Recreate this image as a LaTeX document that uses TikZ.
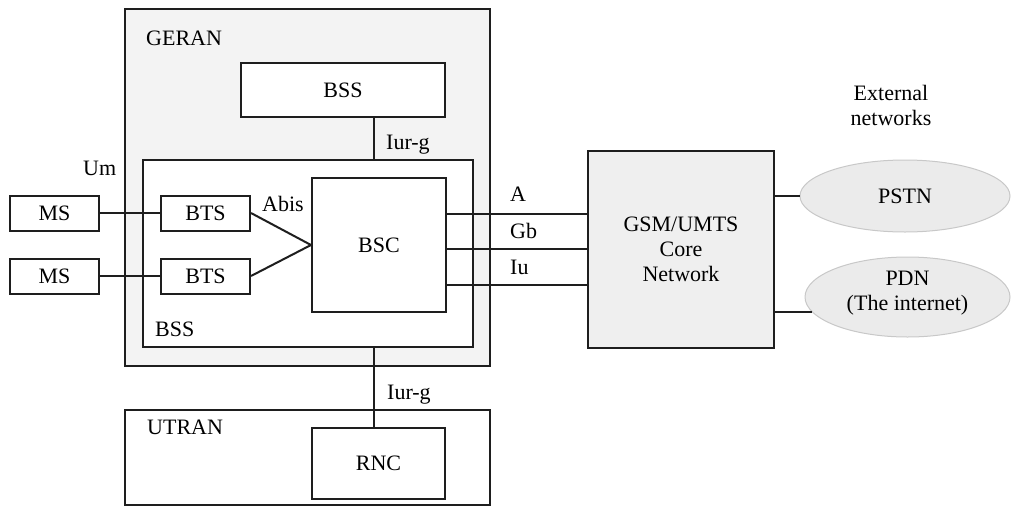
\documentclass[tikz,border=0pt]{standalone}
\usepackage{fontspec}
\setmainfont{Liberation Serif}
\usepackage{xcolor}
\usepackage{tikz}
\usetikzlibrary{shapes.geometric,calc}
\definecolor{ink}{HTML}{1E1E1E}
\definecolor{regiongray}{HTML}{F3F3F3}
\definecolor{coregray}{HTML}{EFEFEF}
\definecolor{cloudgray}{HTML}{EBEBEB}
\definecolor{cloudline}{HTML}{C8C8C8}
\tikzset{
  every node/.style={font=\fontsize{22}{25}\selectfont},
  region/.style={rectangle, draw=ink, line width=2pt, inner sep=0pt, fill=regiongray},
  unit/.style={rectangle, draw=ink, line width=2pt, inner sep=0pt, align=center, fill=white},
  extnet/.style={ellipse, draw=cloudline, line width=1pt, fill=cloudgray, inner sep=0pt, align=center},
  tag/.style={anchor=west, inner sep=0pt, text height=15pt, text depth=0pt},
  link/.style={draw=ink, line width=2pt}
}
\begin{document}
\begin{tikzpicture}[x=1pt, y=-1pt]
  \useasboundingbox (0,0) rectangle (1013,507);
  % radio access networks
  \node[region, minimum width=365pt, minimum height=357pt] (geran) at (307.5,187.5) {};
  \node[unit, minimum width=330pt, minimum height=187pt] (bssin) at (308,253.5) {};
  \node[unit, minimum width=204pt, minimum height=54pt] (bsstop) at (343,90) {BSS};
  \node[unit, minimum width=365pt, minimum height=95pt] (utran) at (307.5,457.5) {};
  \node[unit, minimum width=133pt, minimum height=71pt] (rnc) at (378.5,463.5) {RNC};
  \node[tag] (geranlbl) at (146,38) {GERAN};
  \node[tag] (bsslbl) at (155,329) {BSS};
  \node[tag] (utranlbl) at (147,427) {UTRAN};

  % mobiles and base stations
  \node[unit, minimum width=89pt, minimum height=35pt] (ms1) at (54.5,213) {MS};
  \node[unit, minimum width=89pt, minimum height=35pt] (ms2) at (54.5,276) {MS};
  \node[unit, minimum width=89pt, minimum height=35pt] (bts1) at (205.5,213) {BTS};
  \node[unit, minimum width=89pt, minimum height=35pt] (bts2) at (205.5,276) {BTS};
  \node[unit, minimum width=134pt, minimum height=134pt] (bsc) at (379,245) {BSC};

  % core and external networks
  \node[unit, fill=coregray, minimum width=186pt, minimum height=197pt] (core) at (681,249.5) {GSM/UMTS\\Core\\Network};
  \node[extnet, minimum width=210pt, minimum height=72pt] (pstn) at (905,196) {PSTN};
  \node[extnet, minimum width=205pt, minimum height=80pt, text depth=12pt] (pdn) at (907.5,297) {PDN\\(The internet)};
  \node[align=center, inner sep=0pt] (extlbl) at (891,105) {External\\networks};

  % interfaces
  \coordinate (iur) at (374,0);
  \coordinate (ifa-out) at ($(bsc.east)+(0,-31)$);
  \coordinate (ifgb-out) at ($(bsc.east)+(0,4)$);
  \coordinate (ifiu-out) at ($(bsc.east)+(0,40)$);
  \draw[link] (ms1) -- (bts1);
  \draw[link] (ms2) -- (bts2);
  \draw[link] (bts1.east) -- (bsc.west);
  \draw[link] (bts2.east) -- (bsc.west);
  \draw[link] (ifa-out) -- (ifa-out -| core.west);
  \draw[link] (ifgb-out) -- (ifgb-out -| core.west);
  \draw[link] (ifiu-out) -- (ifiu-out -| core.west);
  \draw[link] (bsstop.south -| iur) -- (bssin.north -| iur);
  \draw[link] (bssin.south -| iur) -- (rnc.north -| iur);
  \draw[link] (core.east |- pstn.west) -- (pstn.west);
  \draw[link] (core.east |- pdn.189) -- (pdn.189);

  \node[tag] (um) at (83,168) {Um};
  \node[tag] (abis) at (262,204) {Abis};
  \node[tag] (ifa) at (510,194) {A};
  \node[tag] (ifgb) at (510,231) {Gb};
  \node[tag] (ifiu) at (510,267) {Iu};
  \node[tag] (iurtop) at (386,142) {Iur-g};
  \node[tag] (iurbot) at (387,392) {Iur-g};
\end{tikzpicture}
\end{document}
